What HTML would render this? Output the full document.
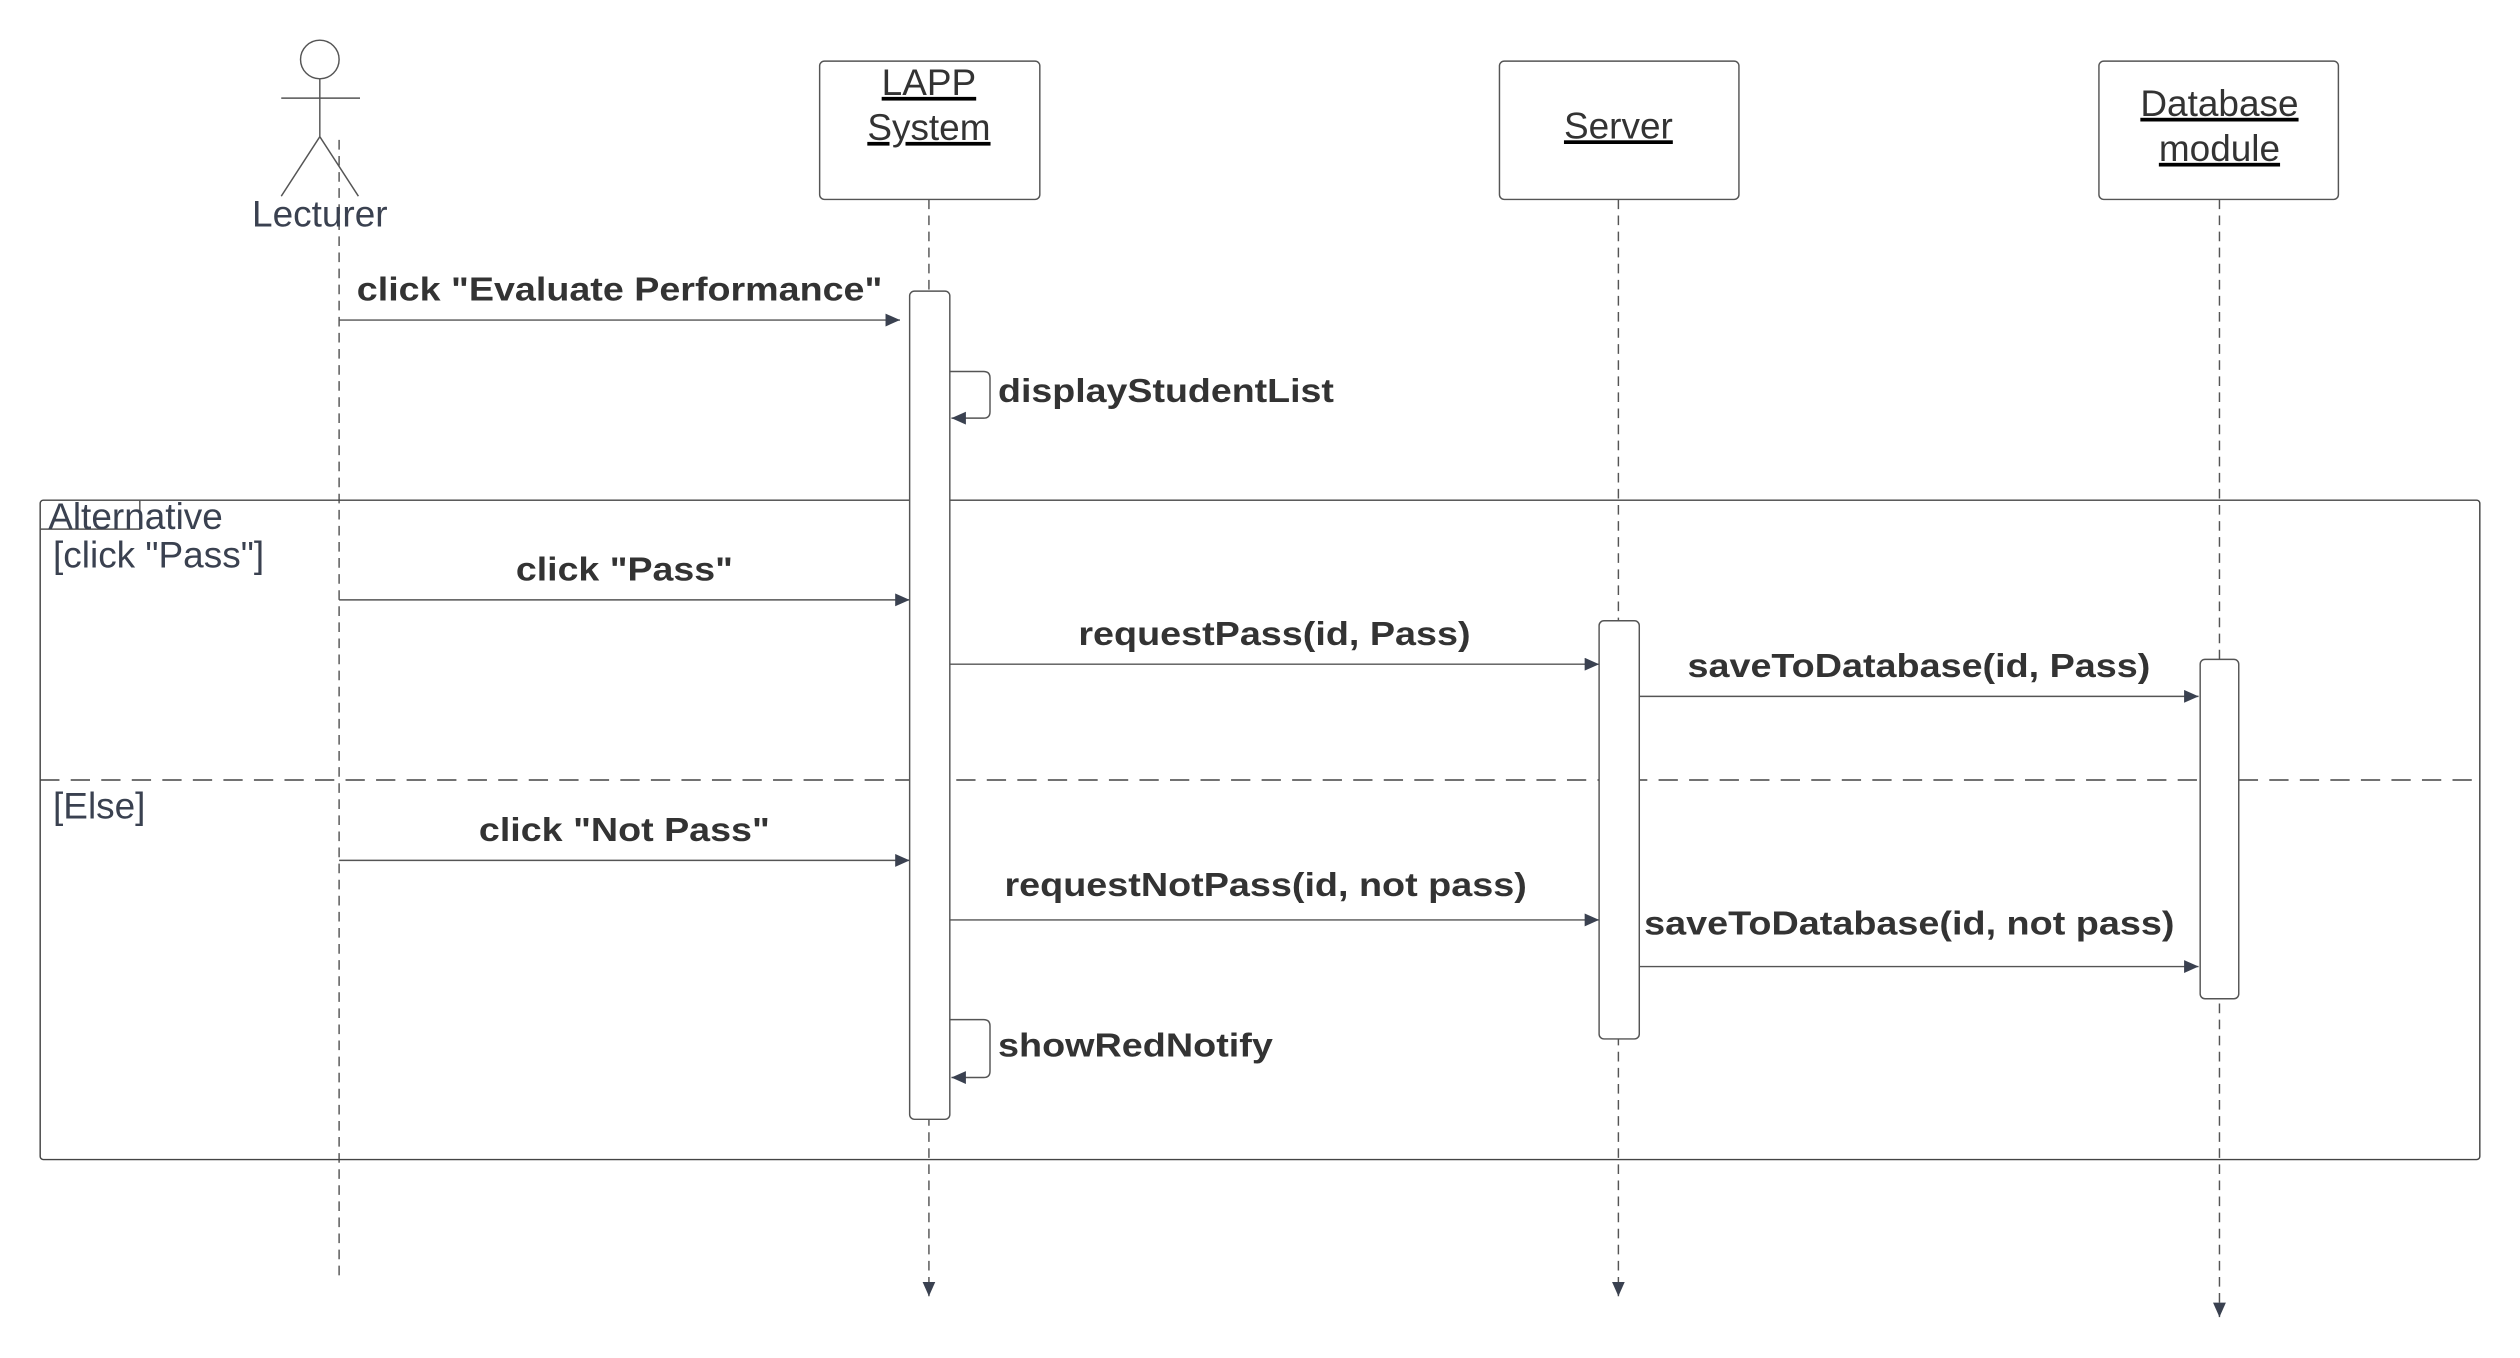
<!DOCTYPE html>
<html><head><meta charset="utf-8"><style>
html,body{margin:0;padding:0;background:#fff;}
svg{display:block;}
text{font-family:"Liberation Sans",Arial,sans-serif;fill:#333;}
.b{font-weight:bold;font-size:21px;}
</style></head><body>
<svg width="2520" height="1358" viewBox="0 0 1568 844.4" preserveAspectRatio="none" xmlns="http://www.w3.org/2000/svg">
<defs>
<marker id="a" markerWidth="10" markerHeight="8" refX="9" refY="4" orient="auto" markerUnits="userSpaceOnUse">
<path d="M0,0 L9,4 L0,8 z" fill="#3a4150"/></marker>
</defs>
<rect width="1568" height="845" fill="#fff"/>
<g stroke="#555" stroke-width="0.9" fill="none">
<circle cx="199" cy="37" r="12"/>
<line x1="175" y1="61" x2="224" y2="61"/>
<line x1="199" y1="49" x2="199" y2="85"/>
<line x1="199" y1="85" x2="175" y2="122"/>
<line x1="199" y1="85" x2="223" y2="122"/>
<g stroke-dasharray="6,4">
<line x1="211" y1="87" x2="211" y2="797"/>
<line x1="578" y1="124" x2="578" y2="806" marker-end="url(#a)"/>
<line x1="1007" y1="124" x2="1007" y2="806" marker-end="url(#a)"/>
<line x1="1381" y1="124" x2="1381" y2="819" marker-end="url(#a)"/>
</g>
<rect x="25" y="311" width="1518" height="410" rx="2" stroke="#444" fill="none"/>
<path d="M25,329 L87,329 L87,311" />
<line x1="25" y1="485" x2="1543" y2="485" stroke-dasharray="12,7" stroke="#444"/>
</g>
<g fill="#fff" stroke="#555" stroke-width="0.9">
<rect x="510" y="38" width="137" height="86" rx="3"/>
<rect x="933" y="38" width="149" height="86" rx="3"/>
<rect x="1306" y="38" width="149" height="86" rx="3"/>
<rect x="566" y="181" width="25" height="515" rx="3"/>
<rect x="995" y="386" width="25" height="260" rx="3"/>
<rect x="1369" y="410" width="24" height="211" rx="3"/>
</g>
<g font-size="23" text-anchor="middle" text-decoration="underline">
<text x="578" y="59">LAPP</text>
<text x="578" y="87">System</text>
<text x="1007" y="86">Server</text>
<text x="1381" y="72">Database</text>
<text x="1381" y="100">module</text>
</g>
<text x="199" y="141" font-size="23" text-anchor="middle" style="fill:#3a4150">Lecturer</text>
<text x="30" y="329" font-size="23" style="fill:#3a4150">Alternative</text>
<text x="33" y="353" font-size="23" style="fill:#3a4150">[click "Pass"]</text>
<text x="33" y="509" font-size="23" style="fill:#3a4150">[Else]</text>
<g stroke="#555" stroke-width="0.9" fill="none">
<line x1="211" y1="199" x2="560" y2="199" marker-end="url(#a)"/>
<path d="M591,231 L612,231 Q616,231 616,235 L616,256 Q616,260 612,260 L592,260" marker-end="url(#a)"/>
<line x1="211" y1="373" x2="566" y2="373" marker-end="url(#a)"/>
<line x1="591" y1="413" x2="995" y2="413" marker-end="url(#a)"/>
<line x1="1020" y1="433" x2="1368" y2="433" marker-end="url(#a)"/>
<line x1="211" y1="535" x2="566" y2="535" marker-end="url(#a)"/>
<line x1="591" y1="572" x2="995" y2="572" marker-end="url(#a)"/>
<line x1="1020" y1="601" x2="1368" y2="601" marker-end="url(#a)"/>
<path d="M591,634 L612,634 Q616,634 616,638 L616,666 Q616,670 612,670 L592,670" marker-end="url(#a)"/>
</g>
<g class="b">
<text class="b" x="222" y="187" textLength="327" lengthAdjust="spacingAndGlyphs">click "Evaluate Performance"</text>
<text class="b" x="621" y="250" textLength="209" lengthAdjust="spacingAndGlyphs">displayStudentList</text>
<text class="b" x="321" y="361" textLength="135" lengthAdjust="spacingAndGlyphs">click "Pass"</text>
<text class="b" x="671" y="401" textLength="244" lengthAdjust="spacingAndGlyphs">requestPass(id, Pass)</text>
<text class="b" x="1050" y="421" textLength="288" lengthAdjust="spacingAndGlyphs">saveToDatabase(id, Pass)</text>
<text class="b" x="298" y="523" textLength="181" lengthAdjust="spacingAndGlyphs">click "Not Pass"</text>
<text class="b" x="625" y="557" textLength="325" lengthAdjust="spacingAndGlyphs">requestNotPass(id, not pass)</text>
<text class="b" x="1023" y="581" textLength="330" lengthAdjust="spacingAndGlyphs">saveToDatabase(id, not pass)</text>
<text class="b" x="621" y="657" textLength="171" lengthAdjust="spacingAndGlyphs">showRedNotify</text>
</g>
</svg>
</body></html>
